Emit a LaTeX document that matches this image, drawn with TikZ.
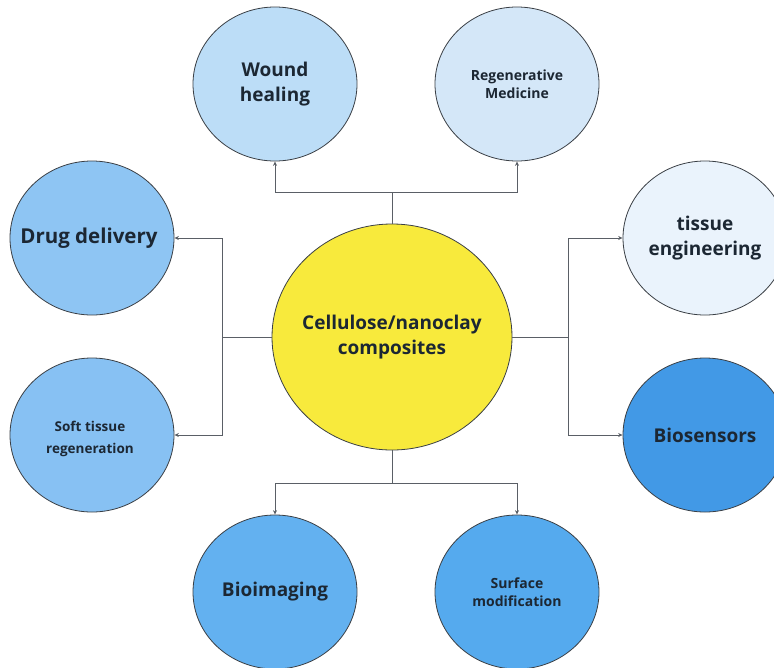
\documentclass[tikz,border=0pt]{standalone}
\usepackage{fontspec}
\setmainfont{Open Sans}
\usetikzlibrary{shapes.geometric,arrows.meta}
\newcommand{\zt}[1]{\makebox[0pt]{\parbox{230pt}{\centering #1}}}
\definecolor{txt}{HTML}{1C2733}
\definecolor{edge}{HTML}{3A3F45}
\definecolor{conn}{HTML}{5A5F66}
\definecolor{cyel}{HTML}{F8EA3C}
\definecolor{cwh}{HTML}{BCDDF7}
\definecolor{crm}{HTML}{D4E7F8}
\definecolor{cdd}{HTML}{8EC5F3}
\definecolor{cst}{HTML}{87C1F3}
\definecolor{cte}{HTML}{EAF3FC}
\definecolor{cbs}{HTML}{4299E6}
\definecolor{cbi}{HTML}{63B1F0}
\definecolor{csm}{HTML}{55AAEE}
\tikzset{
  bubble/.style={ellipse, draw=edge, line width=0.8pt, inner sep=0pt,
    minimum width=164pt, minimum height=154pt, text=txt,
    font=\bfseries},
  big/.style={font=\bfseries\fontsize{19}{24.5}\selectfont},
  bigger/.style={font=\bfseries\fontsize{20.5}{25}\selectfont},
  small/.style={font=\bfseries\fontsize{14}{18}\selectfont},
  smallwide/.style={font=\bfseries\fontsize{13.5}{22}\selectfont},
  conline/.style={draw=conn, line width=0.8pt},
  arr/.style={conline, -{Stealth[length=4.5pt,width=4pt]}}
}
\begin{document}
\begin{tikzpicture}[x=1pt,y=-1pt]
\clip (0,0) rectangle (774,667);
\fill[white] (0,0) rectangle (774,667);
% center
\node[bubble, fill=cyel, minimum width=240pt, minimum height=226pt, big] (c) at (392,337) {\zt{Cellulose/nanoclay\\composites}};
% satellites
\node[bubble, fill=cwh, big] (wh) at (275,84) {\zt{Wound\\healing}};
\node[bubble, fill=crm, small] (rm) at (517,84) {\zt{Regenerative\\Medicine}};
\node[bubble, fill=cdd, bigger] (dd) at (92,238) {\hspace*{-6pt}\zt{Drug delivery}};
\node[bubble, fill=cst, smallwide] (st) at (92,435) {\raisebox{-7.5pt}[0pt][0pt]{\hspace*{-4pt}\zt{Soft tissue\\regeneration}}};
\node[bubble, fill=cte, big] (te) at (705,238) {\zt{tissue\\engineering}};
\node[bubble, fill=cbs, big] (bs) at (705,435) {\zt{Biosensors}};
\node[bubble, fill=cbi, big] (bi) at (275,592) {\zt{Bioimaging}};
\node[bubble, fill=csm, small] (sm) at (517,592) {\zt{Surface\\modification}};
% junctions
\coordinate (jt) at (392,192);
\coordinate (jb) at (392,483);
\coordinate (jl) at (222,337);
\coordinate (jr) at (568,337);
\draw[conline] (c.north) -- (jt);
\draw[arr] (jt) -| (wh.south);
\draw[arr] (jt) -| (rm.south);
\draw[conline] (c.south) -- (jb);
\draw[arr] (jb) -| (bi.north);
\draw[arr] (jb) -| (sm.north);
\draw[conline] (c.west) -- (jl);
\draw[arr] (jl) |- (dd.east);
\draw[arr] (jl) |- (st.east);
\draw[conline] (c.east) -- (jr);
\draw[arr] (jr) |- (te.west);
\draw[arr] (jr) |- (bs.west);
\end{tikzpicture}
\end{document}
